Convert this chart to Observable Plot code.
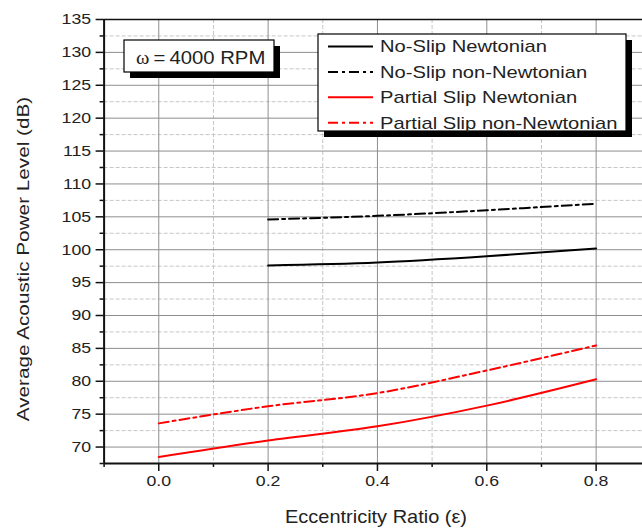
<!DOCTYPE html>
<html>
<head>
<meta charset="utf-8">
<script src="https://cdn.jsdelivr.net/npm/d3@7"></script>
<script src="https://cdn.jsdelivr.net/npm/@observablehq/plot@0.6"></script>
<style>
  html, body { margin: 0; padding: 0; background: #fff; overflow: hidden; }
  #chart { width: 642px; height: 529px; overflow: hidden; position: relative; }
</style>
</head>
<body>
<div id="chart"></div>
<script>
// Average acoustic power level vs. eccentricity ratio at 4000 RPM
const eccentricity = [0.0, 0.2, 0.4, 0.6, 0.8];
const seriesNames = [
  "No-Slip Newtonian",
  "No-Slip non-Newtonian",
  "Partial Slip Newtonian",
  "Partial Slip non-Newtonian"
];
// null = not computed at that eccentricity
const noSlipNewtonian       = [null, 97.6, 98.05, 99.0, 100.2];
const noSlipNonNewtonian    = [null, 104.6, 105.15, 106.0, 107.0];
const partialSlipNewtonian  = [68.5, 71.0, 73.15, 76.3, 80.3];
const partialSlipNonNewton  = [73.6, 76.2, 78.2, 81.65, 85.45];
const seriesValues = [noSlipNewtonian, noSlipNonNewtonian, partialSlipNewtonian, partialSlipNonNewton];

const xMajorTicks = [0.0, 0.2, 0.4, 0.6, 0.8];
const xMinorTicks = [-0.1, 0.1, 0.3, 0.5, 0.7, 0.9];
const yMajorTicks = [70, 75, 80, 85, 90, 95, 100, 105, 110, 115, 120, 125, 130, 135];
const yMinorTicks = [67.5, 72.5, 77.5, 82.5, 87.5, 92.5, 97.5, 102.5, 107.5, 112.5, 117.5, 122.5, 127.5, 132.5];
const speedLabel = "4000 RPM";

// line appearance per series
const DASHDOT = "10,4,3,4";
const seriesStyle = [
  {stroke: "#000", dash: null},
  {stroke: "#000", dash: DASHDOT},
  {stroke: "#ff0000", dash: null},
  {stroke: "#ff0000", dash: DASHDOT}
];

const rows = seriesNames.flatMap((name, s) =>
  eccentricity.map((e, i) => ({series: name, eps: e, value: seriesValues[s][i]}))
    .filter(d => d.value != null)
);

const X0 = -0.1, X1 = 0.9, Y0 = 67.5, Y1 = 135;

const plot = Plot.plot({
  width: 642,
  height: 529,
  marginLeft: 103.6,
  marginRight: -8.3,
  marginTop: 19,
  marginBottom: 66,
  style: {
    fontFamily: "'Liberation Sans', Arial, sans-serif",
    fontSize: "15px",
    color: "#222",
    background: "#fff",
    overflow: "hidden"
  },
  x: {domain: [X0, X1], label: null},
  y: {domain: [Y0, Y1], label: null},
  marks: [
    Plot.gridX(xMinorTicks, {stroke: "#c6c6c6", strokeOpacity: 1, strokeDasharray: "4,2"}),
    Plot.gridY(yMinorTicks, {stroke: "#c6c6c6", strokeOpacity: 1, strokeDasharray: "4,2"}),
    Plot.gridX(xMajorTicks, {stroke: "#8e8e8e", strokeOpacity: 1}),
    Plot.gridY(yMajorTicks, {stroke: "#8e8e8e", strokeOpacity: 1}),
    ...seriesNames.map((name, s) =>
      Plot.line(rows.filter(d => d.series === name), {
        x: "eps", y: "value",
        stroke: seriesStyle[s].stroke,
        strokeWidth: 2,
        strokeDasharray: seriesStyle[s].dash,
        curve: "monotone-x"
      })
    ),
    Plot.axisY(yMajorTicks, {anchor: "left", tickSize: 8, tickPadding: 5, tickFormat: d => String(d), label: null, stroke: "#111", strokeWidth: 1.5}),
    Plot.axisY(yMinorTicks, {anchor: "left", tickSize: 4, tickFormat: () => "", label: null, stroke: "#111", strokeWidth: 1.5}),
    Plot.axisX(xMajorTicks, {anchor: "bottom", tickSize: 8, tickPadding: 4, tickFormat: d3.format(".1f"), label: null, stroke: "#111", strokeWidth: 1.5}),
    Plot.axisX(xMinorTicks, {anchor: "bottom", tickSize: 4, tickFormat: () => "", label: null, stroke: "#111", strokeWidth: 1.5}),
    Plot.ruleX([X0], {stroke: "#111", strokeWidth: 2}),
    Plot.ruleY([Y0], {stroke: "#111", strokeWidth: 2}),
    Plot.ruleY([Y1], {stroke: "#111", strokeWidth: 1.5})
  ]
});

document.getElementById("chart").appendChild(plot);
const svg = d3.select(plot);

// widen glyphs horizontally around each label's anchor point
function widen(node, sx) {
  const t = node.getAttribute("transform") || "";
  const x = parseFloat(node.getAttribute("x")) || 0;
  node.setAttribute("transform", `${t} translate(${x},0) scale(${sx},1) translate(${-x},0)`);
}
svg.selectAll("text").each(function() { widen(this, 1.18); });

// axis titles
svg.append("text")
  .attr("transform", "translate(28.5,259) rotate(-90) scale(1.22,1)")
  .attr("text-anchor", "middle")
  .attr("font-size", 17)
  .attr("fill", "#222")
  .text("Average Acoustic Power Level (dB)");

svg.append("text")
  .attr("transform", "translate(376,523.3) scale(1.11,1)")
  .attr("text-anchor", "middle")
  .attr("font-size", 18)
  .attr("fill", "#222")
  .text("Eccentricity Ratio (ε)");

// speed annotation box
const note = svg.append("g").attr("text-anchor", "start");
note.append("rect").attr("x", 130).attr("y", 46).attr("width", 150).attr("height", 32).attr("fill", "#000");
note.append("rect").attr("x", 124).attr("y", 40).attr("width", 150).attr("height", 32)
  .attr("fill", "#fff").attr("stroke", "#000").attr("stroke-width", 1.2);
const noteText = note.append("text")
  .attr("transform", "translate(136,64.3) scale(1.07,1)")
  .attr("text-anchor", "start")
  .attr("font-size", 19)
  .attr("fill", "#222");
noteText.append("tspan").attr("font-family", "'Liberation Serif', 'DejaVu Serif', serif").text("ω");
noteText.append("tspan").text("\u2009=\u2009" + speedLabel);

// legend
const legend = svg.append("g").attr("text-anchor", "start");
legend.append("rect").attr("x", 324).attr("y", 40).attr("width", 308).attr("height", 97).attr("fill", "#000");
legend.append("rect").attr("x", 318).attr("y", 34).attr("width", 308).attr("height", 97)
  .attr("fill", "#fff").attr("stroke", "#000").attr("stroke-width", 1.2);
seriesNames.forEach((name, s) => {
  const base = 52.3 + s * 25.4;
  legend.append("line")
    .attr("x1", 328).attr("x2", 373)
    .attr("y1", base - 5.8).attr("y2", base - 5.8)
    .attr("stroke", seriesStyle[s].stroke)
    .attr("stroke-width", 2)
    .attr("stroke-dasharray", seriesStyle[s].dash);
  legend.append("text")
    .attr("transform", `translate(380,${base}) scale(1.26,1)`)
    .attr("text-anchor", "start")
    .attr("font-size", 16)
    .attr("fill", "#222")
    .text(name);
});
</script>
</body>
</html>
